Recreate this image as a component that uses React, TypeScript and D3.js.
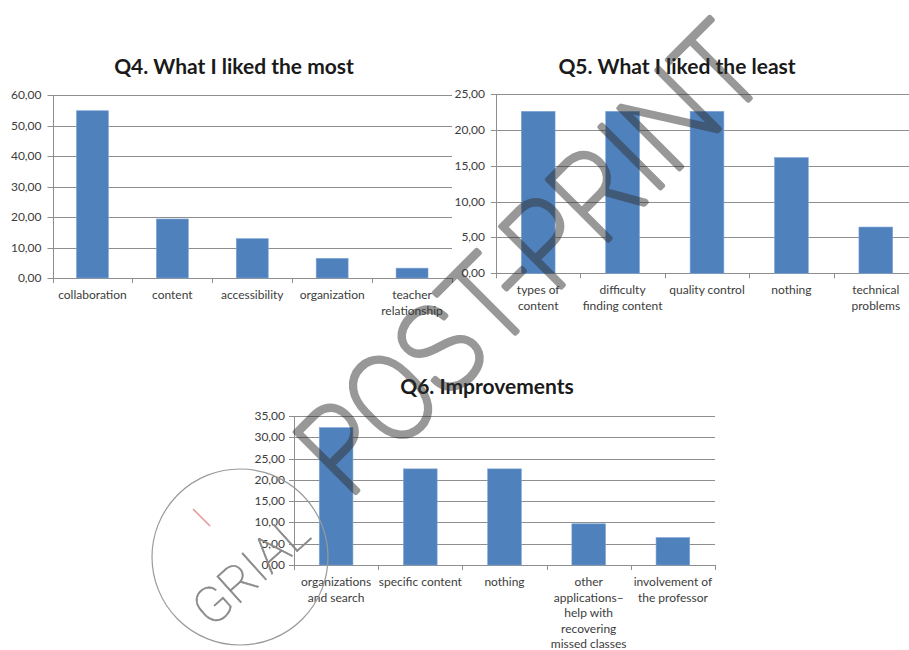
import React from "react";
import * as d3 from "d3";

const q4Categories = ["collaboration", "content", "accessibility", "organization", "teacher\nrelationship"];
const q4Values = [54.84, 19.35, 12.9, 6.45, 3.23];
const q4Ticks = [0, 10, 20, 30, 40, 50, 60];

const q5Categories = ["types of\ncontent", "difficulty\nfinding content", "quality control", "nothing", "technical\nproblems"];
const q5Values = [22.58, 22.58, 22.58, 16.13, 6.45];
const q5Ticks = [0, 5, 10, 15, 20, 25];

const q6Categories = [
  "organizations\nand search",
  "specific content",
  "nothing",
  "other\napplications–\nhelp with\nrecovering\nmissed classes",
  "involvement of\nthe professor",
];
const q6Values = [32.26, 22.58, 22.58, 9.68, 6.45];
const q6Ticks = [0, 5, 10, 15, 20, 25, 30, 35];

const titles = ["Q4. What I liked the most", "Q5. What I liked the least", "Q6. Improvements"];
const watermark = "POST-PRINT";
const stamp = "GRIAL";

const BAR = "#4f81bd";
const GRID = "#8e8e8e";
const TEXT = "#3c3c3c";
const FONT = "Lato, 'Open Sans', sans-serif";

const fmt = (v: number) => d3.format(".2f")(v).replace(".", ",");

type PanelProps = {
  title: string;
  titleX: number;
  titleY: number;
  categories: string[];
  values: number[];
  ticks: number[];
  x0: number;
  x1: number;
  yTop: number;
  yBottom: number;
  labelGap: number;
};

function Panel(p: PanelProps) {
  const max = d3.max(p.ticks) as number;
  const y = d3.scaleLinear().domain([0, max]).range([p.yBottom, p.yTop]);
  const x = d3
    .scaleBand<string>()
    .domain(p.categories)
    .range([p.x0, p.x1])
    .paddingInner(0.6)
    .paddingOuter(0.3);
  const step = x.step();
  const boundaries = d3.range(p.categories.length + 1).map((i) => p.x0 + i * step);
  return (
    <g>
      <text
        x={p.titleX}
        y={p.titleY}
        textAnchor="middle"
        fontFamily={FONT}
        fontWeight={700}
        fontSize={21}
        fill="#1a1a1a"
      >
        {p.title}
      </text>
      {p.ticks.map((t) => (
        <g key={t}>
          <line x1={p.x0 - 5} x2={p.x1} y1={Math.round(y(t)) + 0.5} y2={Math.round(y(t)) + 0.5} stroke={GRID} strokeWidth={1} />
          <text
            x={p.x0 - p.labelGap}
            y={y(t) + 4}
            textAnchor="end"
            fontFamily={FONT}
            fontSize={12}
            fill={TEXT}
          >
            {fmt(t)}
          </text>
        </g>
      ))}
      <line x1={Math.round(p.x0) + 0.5} x2={Math.round(p.x0) + 0.5} y1={p.yTop} y2={p.yBottom} stroke={GRID} strokeWidth={1} />
      {boundaries.map((bx, i) => (
        <line key={i} x1={Math.round(bx) + 0.5} x2={Math.round(bx) + 0.5} y1={p.yBottom} y2={p.yBottom + 5} stroke={GRID} strokeWidth={1} />
      ))}
      {p.categories.map((c, i) => (
        <rect
          key={c}
          x={x(c)}
          y={y(p.values[i])}
          width={x.bandwidth()}
          height={p.yBottom - y(p.values[i])}
          fill={BAR}
          stroke="#7fa6d6"
          strokeWidth={0.6}
        />
      ))}
      {p.categories.map((c) => {
        const cx = (x(c) as number) + x.bandwidth() / 2;
        return (
          <text key={c} textAnchor="middle" fontFamily={FONT} fontSize={12} fill={TEXT}>
            {c.split("\n").map((line, j) => (
              <tspan key={j} x={cx} y={p.yBottom + 21 + j * 15.5}>
                {line}
              </tspan>
            ))}
          </text>
        );
      })}
    </g>
  );
}

export default function App() {
  return (
    <svg
      width={909}
      height={650}
      style={{ position: "absolute", left: 0, top: 0, background: "#fff" }}
    >
      <rect x={0} y={0} width={909} height={650} fill="#fff" />
      <Panel
        title={titles[0]}
        titleX={234}
        titleY={74}
        categories={q4Categories}
        values={q4Values}
        ticks={q4Ticks}
        x0={52.5}
        x1={452}
        yTop={95}
        yBottom={278}
        labelGap={11}
      />
      <Panel
        title={titles[1]}
        titleX={677}
        titleY={74}
        categories={q5Categories}
        values={q5Values}
        ticks={q5Ticks}
        x0={496}
        x1={918}
        yTop={94}
        yBottom={273.3}
        labelGap={11}
      />
      <Panel
        title={titles[2]}
        titleX={487}
        titleY={394}
        categories={q6Categories}
        values={q6Values}
        ticks={q6Ticks}
        x0={294}
        x1={715}
        yTop={416}
        yBottom={565}
        labelGap={9}
      />
      {/* watermark */}
      <g opacity={0.5}>
        <text
          transform="translate(348,500) rotate(-45)"
          textAnchor="start"
          fontFamily="Roboto, sans-serif"
          fontWeight={100}
          fontSize={120}
          textLength={600}
          lengthAdjust="spacingAndGlyphs"
          fill="#333"
          stroke="#333"
          strokeWidth={5.5}
          strokeLinejoin="round"
          strokeLinecap="round"
        >
          {watermark}
        </text>
      </g>
      <circle cx={240} cy={557} r={88} fill="none" stroke="#9a9a9a" strokeWidth={1.2} />
      <text
        transform="translate(250,570) rotate(-42)"
        textAnchor="middle"
        dy="0.36em"
        fontFamily="Roboto, sans-serif"
        fontWeight={100}
        fontSize={50}
        fill="#8a8a8a"
        stroke="#8a8a8a"
        strokeWidth={0.6}
      >
        {stamp}
      </text>
      <line x1={193} y1={509} x2={210} y2={526} stroke="#e8959a" strokeWidth={1.6} />
    </svg>
  );
}
